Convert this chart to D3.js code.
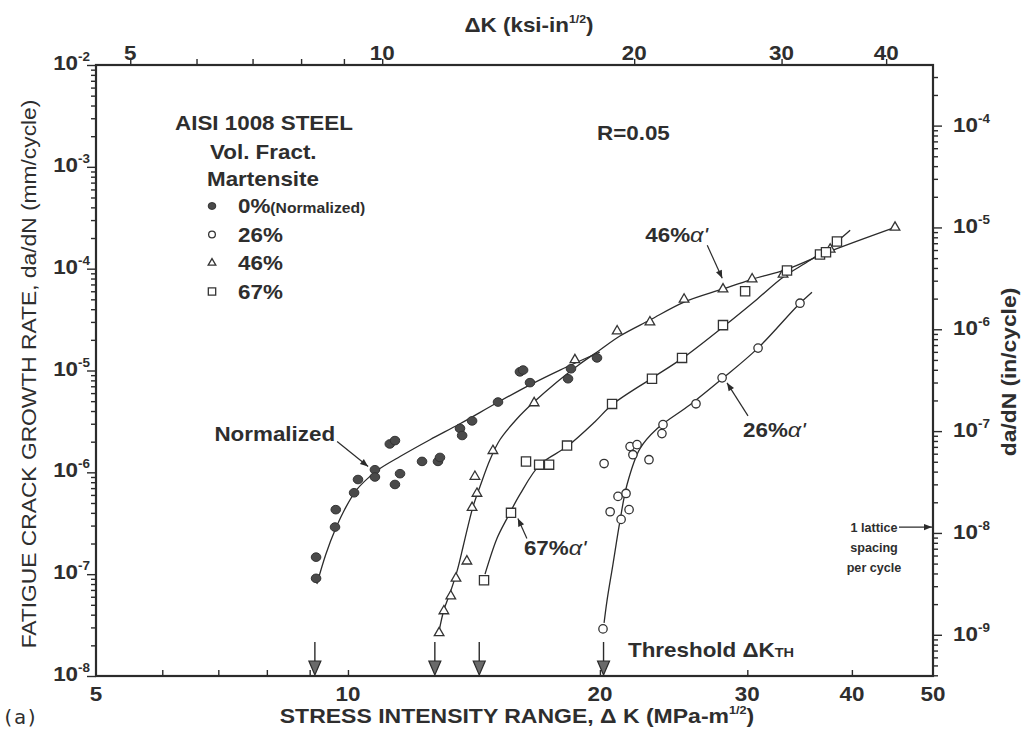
<!DOCTYPE html>
<html>
<head>
<meta charset="utf-8">
<script src="https://cdn.jsdelivr.net/npm/d3@7"></script>
<style>
  html, body { margin: 0; padding: 0; background: #fff; }
  svg { display: block; }
  text { font-family: "Liberation Sans", Arial, Helvetica, sans-serif; fill: #2e2e2e; }
</style>
</head>
<body>
<svg id="chart" width="1025" height="730"></svg>
<script>
// ---- Data: stress intensity range ΔK (MPa·m^1/2) vs da/dN (mm/cycle) ----
const normalizedPts = [
  [9.16,1.47e-7],[9.16,9.1e-8],[9.65,2.9e-7],[9.67,4.3e-7],[10.17,6.3e-7],[10.28,8.5e-7],
  [10.77,1.06e-6],[10.77,9.0e-7],[11.22,1.9e-6],[11.38,2.05e-6],[11.54,9.7e-7],[11.38,7.6e-7],
  [12.26,1.28e-6],[12.81,1.28e-6],[12.88,1.4e-6],[13.61,2.7e-6],[13.69,2.3e-6],[14.07,3.2e-6],
  [15.11,4.9e-6],[16.05,9.7e-6],[16.19,1.01e-5],[16.5,7.6e-6],[18.32,8.3e-6],[18.47,1.04e-5],
  [19.84,1.33e-5]
];
const pct26Pts = [
  [20.17,2.9e-8],[20.57,4.1e-7],[21.67,4.3e-7],[21.2,3.45e-7],[21.02,5.8e-7],[21.49,6.2e-7],
  [21.73,1.79e-6],[22.15,1.87e-6],[21.9,1.49e-6],[22.89,1.33e-6],[20.23,1.22e-6],[23.79,2.94e-6],
  [23.72,2.4e-6],[26.05,4.71e-6],[27.99,8.47e-6],[30.9,1.66e-5],[34.68,4.58e-5]
];
const pct46Pts = [
  [12.85,2.65e-8],[13.02,4.35e-8],[13.27,6.1e-8],[13.46,9.1e-8],[13.87,1.34e-7],[14.07,4.5e-7],
  [14.26,6.2e-7],[14.18,9.1e-7],[14.9,1.63e-6],[16.69,4.8e-6],[18.67,1.27e-5],[20.97,2.44e-5],
  [22.95,2.99e-5],[25.21,5.0e-5],[28.06,6.3e-5],[30.4,7.9e-5],[33.1,8.8e-5],[37.68,1.55e-4],
  [45.04,2.54e-4]
];
const pct67Pts = [
  [14.54,8.7e-8],[15.66,4.0e-7],[16.32,1.28e-6],[16.92,1.19e-6],[17.39,1.19e-6],[18.27,1.83e-6],
  [20.68,4.7e-6],[23.08,8.3e-6],[25.07,1.33e-5],[28.06,2.79e-5],[29.82,6.0e-5],[33.46,9.6e-5],
  [36.64,1.38e-4],[37.25,1.45e-4],[38.39,1.85e-4]
];

// Hand-drawn trend curves through each series
const normalizedFit = [
  [9.18,8.0e-8],[9.41,1.57e-7],[9.67,2.82e-7],[9.94,4.53e-7],[10.25,6.8e-7],[10.62,9.1e-7],
  [10.92,1.09e-6],[11.54,1.43e-6],[12.53,2.09e-6],[13.61,3.0e-6],[15.07,4.82e-6],[16.5,7.23e-6],
  [17.92,1.01e-5],[20.0,1.52e-5]
];
const fit26 = [
  [20.23,3.32e-8],[20.39,5.44e-8],[20.73,1.25e-7],[21.13,3.3e-7],[21.55,7.6e-7],[22.33,1.71e-6],
  [23.4,2.68e-6],[25.63,4.61e-6],[27.99,8.28e-6],[30.82,1.63e-5],[34.49,4.38e-5],[35.84,5.88e-5]
];
const fit46 = [
  [12.85,2.77e-8],[13.02,4.45e-8],[13.24,6.5e-8],[13.5,1.07e-7],[13.73,1.88e-7],[13.91,2.95e-7],
  [14.11,4.63e-7],[14.38,7.26e-7],[14.78,1.33e-6],[15.19,2.09e-6],[15.92,3.36e-6],[16.64,4.82e-6],
  [17.77,7.73e-6],[18.93,1.16e-5],[20.0,1.59e-5],[21.13,2.18e-5],[22.95,3.13e-5],[25.21,4.69e-5],
  [27.99,6.28e-5],[30.4,7.87e-5],[33.46,9.86e-5],[37.68,1.48e-4],[45.04,2.54e-4]
];
const fit67 = [
  [14.58,1.0e-7],[15.07,2.25e-7],[15.49,3.53e-7],[16.05,6.07e-7],[16.96,1.19e-6],[18.27,1.79e-6],
  [19.73,3.14e-6],[20.68,4.61e-6],[23.01,8.28e-6],[25.13,1.33e-5],[28.14,2.73e-5],[30.82,5.02e-5],
  [33.1,8.24e-5],[35.65,1.21e-4],[38.39,1.85e-4],[39.81,2.38e-4]
];

// Threshold ΔK_TH for each microstructure
const thresholdK = [9.13, 12.7, 14.35, 20.2];

// Tick labels
const bottomTickLabels = [5, 10, 20, 30, 40, 50];      // MPa·m^1/2
const topTickLabels = [5, 10, 20, 30, 40];             // ksi·in^1/2
const leftExponents = [-2, -3, -4, -5, -6, -7, -8];    // mm/cycle
const rightExponents = [-4, -5, -6, -7, -8, -9];       // in/cycle

// Legend rows
const legendRows = [
  { shape: "dot",      label: "0%", note: "(Normalized)" },
  { shape: "circle",   label: "26%" },
  { shape: "triangle", label: "46%" },
  { shape: "square",   label: "67%" }
];

// Annotated curves: arrow tip given in data units
const curveNotes = [
  { text: "Normalized", tip: [10.57, 1.14e-6], from: [-31, -25], at: [-33, -26], anchor: "end" },
  { text: "67%", tip: [15.96, 3.53e-7], from: [9, 20], at: [6, 37], anchor: "start", alpha: true },
  { text: "26%", tip: [28.37, 7.56e-6], from: [21, 33], at: [16, 54], anchor: "start", alpha: true },
  { text: "46%", tip: [28.0, 8.05e-5], from: [-15, -33], at: [-77, -36], anchor: "start", alpha: true }
];
const latticeSpacing = 2.9e-7; // mm per cycle, ≈ one lattice spacing

// ---- Layout ----
const MPA_PER_KSI = 1.0988, MM_PER_IN = 25.4;
const L = 96, R = 933, T = 65, B = 676;
const ink = "#2b2b2b";
const SX = 1.12; // wide lettering

const svg = d3.select("#chart");
const x = d3.scaleLog().domain([5, 50]).range([L, R]);
const y = d3.scaleLog().domain([1e-8, 1e-2]).range([B, T]);
const xk = d3.scaleLog().domain([5 / MPA_PER_KSI, 50 / MPA_PER_KSI]).range([L, R]);
const yIn = d3.scaleLog().domain([1e-8 / MM_PER_IN, 1e-2 / MM_PER_IN]).range([B, T]);

const defs = svg.append("defs");
defs.append("marker").attr("id", "ah").attr("viewBox", "0 0 10 10")
  .attr("refX", 10).attr("refY", 5).attr("markerUnits", "userSpaceOnUse")
  .attr("markerWidth", 10).attr("markerHeight", 8).attr("orient", "auto")
  .append("path").attr("d", "M0,1 L10,5 L0,9 Z").attr("fill", ink);

// text helper: parts are strings or {t, size, dy}
function label(parent, px, py, parts, o = {}) {
  const rot = o.rotate ? ` rotate(${o.rotate})` : "";
  const g = parent.append("g").attr("transform", `translate(${px},${py})${rot} scale(${o.sx || SX},1)`);
  const t = g.append("text")
    .attr("text-anchor", o.anchor || "start")
    .attr("font-size", o.size || 20)
    .attr("font-weight", o.weight || "bold");
  if (o.family) t.style("font-family", o.family);
  parts.forEach(p => {
    if (typeof p === "string") t.append("tspan").text(p);
    else {
      const s = t.append("tspan").text(p.t);
      if (p.size) s.attr("font-size", p.size);
      if (p.dy) s.attr("dy", p.dy);
      if (p.weight) s.attr("font-weight", p.weight);
    }
  });
  return t;
}

// ---- Axes ----
function styleAxis(g) {
  g.select(".domain").remove();
  g.selectAll("line").attr("stroke", ink).attr("stroke-width", 1.4);
}
const isDecade = v => Math.abs(Math.log10(v) - Math.round(Math.log10(v))) < 1e-6;

const leftTicks = y.ticks();
svg.append("g").attr("transform", `translate(${L},0)`)
  .call(d3.axisLeft(y).tickValues(leftTicks.filter(v => !isDecade(v))).tickSize(5).tickFormat(""))
  .call(styleAxis);
svg.append("g").attr("transform", `translate(${L},0)`)
  .call(d3.axisLeft(y).tickValues(leftTicks.filter(isDecade)).tickSize(9).tickFormat(""))
  .call(styleAxis);

const rightTicks = yIn.ticks();
svg.append("g").attr("transform", `translate(${R},0)`)
  .call(d3.axisRight(yIn).tickValues(rightTicks.filter(v => !isDecade(v))).tickSize(5).tickFormat(""))
  .call(styleAxis);
svg.append("g").attr("transform", `translate(${R},0)`)
  .call(d3.axisRight(yIn).tickValues(rightTicks.filter(isDecade)).tickSize(9).tickFormat(""))
  .call(styleAxis);

svg.append("g").attr("transform", `translate(0,${B})`)
  .call(d3.axisBottom(x).tickValues(x.ticks().filter(v => v > 5 && v < 50)).tickSize(-6).tickFormat(""))
  .call(styleAxis);
svg.append("g").attr("transform", `translate(0,${T})`)
  .call(d3.axisTop(xk).tickValues(xk.ticks()).tickSize(6).tickFormat(""))
  .call(styleAxis);

svg.append("rect").attr("x", L).attr("y", T).attr("width", R - L).attr("height", B - T)
  .attr("fill", "none").attr("stroke", ink).attr("stroke-width", 2.2);

// tick labels
bottomTickLabels.forEach(v => label(svg, x(v), B + 25, [String(v)], { anchor: "middle" }));
topTickLabels.forEach(v => label(svg, xk(v), T - 5, [String(v)], { anchor: "middle" }));
leftExponents.forEach(e => label(svg, L - 6, y(Math.pow(10, e)) + 5,
  ["10", { t: String(e), size: 12, dy: -9 }], { anchor: "end" }));
rightExponents.forEach(e => label(svg, R + 20, yIn(Math.pow(10, e)) + 6,
  ["10", { t: String(e), size: 12, dy: -9 }], { anchor: "start" }));

// axis titles
label(svg, 529, T - 33, ["ΔK (ksi-in", { t: "1/2", size: 11, dy: -9 }, { t: ")", dy: 9 }], { anchor: "middle" });
label(svg, 517, 723, ["STRESS INTENSITY RANGE, Δ K (MPa-m", { t: "1/2", size: 11, dy: -9 }, { t: ")", dy: 9 }],
  { anchor: "middle", sx: 1.15 });
label(svg, 36, 374, ["FATIGUE CRACK GROWTH RATE, da/dN (mm/cycle)"], { anchor: "middle", rotate: -90, weight: "normal", sx: 1.14 });
label(svg, 1016, 372, ["da/dN (in/cycle)"], { anchor: "middle", rotate: -90, sx: 1.14 });
label(svg, 2, 724, ["(a)"], { weight: "normal", sx: 1, size: 20, family: "'DejaVu Sans Mono', monospace" });

// ---- Curves ----
const line = d3.line().x(d => x(d[0])).y(d => y(d[1])).curve(d3.curveCatmullRom.alpha(0.5));
const plotG = svg.append("g");
[normalizedFit, fit26, fit46, fit67].forEach(f =>
  plotG.append("path").attr("d", line(f)).attr("fill", "none").attr("stroke", ink).attr("stroke-width", 1.3));

// ---- Markers ----
function drawShape(g, shape, cx, cy, s = 1) {
  if (shape === "dot")
    g.append("ellipse").attr("cx", cx).attr("cy", cy).attr("rx", 4.8 * s).attr("ry", 4.3 * s)
      .attr("fill", "#4a4a4a").attr("stroke", "#333").attr("stroke-width", 1);
  else if (shape === "circle")
    g.append("circle").attr("cx", cx).attr("cy", cy).attr("r", 4.2 * s)
      .attr("fill", "#fff").attr("stroke", "#333").attr("stroke-width", 1.3);
  else if (shape === "triangle")
    g.append("path").attr("transform", `translate(${cx},${cy})`)
      .attr("d", d3.symbol(d3.symbolTriangle, 40 * s * s)())
      .attr("fill", "#fff").attr("stroke", "#333").attr("stroke-width", 1.3);
  else
    g.append("path").attr("transform", `translate(${cx},${cy})`)
      .attr("d", d3.symbol(d3.symbolSquare, 85 * s * s)())
      .attr("fill", "#fff").attr("stroke", "#333").attr("stroke-width", 1.3);
}
const seriesList = [
  [normalizedPts, "dot"], [pct26Pts, "circle"], [pct46Pts, "triangle"], [pct67Pts, "square"]
];
seriesList.forEach(([pts, shape]) => pts.forEach(d => drawShape(plotG, shape, x(d[0]), y(d[1]))));

// ---- Threshold arrows ----
thresholdK.forEach(k => {
  const cx = x(k);
  svg.append("line").attr("x1", cx).attr("x2", cx).attr("y1", B - 34).attr("y2", B - 15)
    .attr("stroke", ink).attr("stroke-width", 1.4);
  svg.append("path").attr("d", `M${cx - 6},${B - 15} L${cx + 6},${B - 15} L${cx},${B - 1} Z`)
    .attr("fill", "#6a6a6a").attr("stroke", ink).attr("stroke-width", 1.2);
});
label(svg, 628, B - 19, ["Threshold ΔK", { t: "TH", size: 13 }]);

// ---- Legend ----
const lg = svg.append("g");
label(lg, 175, 130, ["AISI 1008 STEEL"]);
label(lg, 210, 159, ["Vol. Fract."]);
label(lg, 207, 186, ["Martensite"]);
legendRows.forEach((r, i) => {
  const cy = 206 + i * 28.5;
  drawShape(lg, r.shape, 212, cy, 0.8);
  const parts = [r.label];
  if (r.note) parts.push({ t: r.note, size: 14 });
  label(lg, 238, cy + 7, parts);
});
label(svg, 597, 140, ["R=0.05"]);

// ---- Curve annotations ----
curveNotes.forEach(n => {
  const tx = x(n.tip[0]), ty = y(n.tip[1]);
  svg.append("line").attr("x1", tx + n.from[0]).attr("y1", ty + n.from[1])
    .attr("x2", tx).attr("y2", ty).attr("stroke", ink).attr("stroke-width", 1.2)
    .attr("marker-end", "url(#ah)");
  const parts = [n.text];
  if (n.alpha) parts.push({ t: "α'", weight: "normal", size: 21 });
  const t = label(svg, tx + n.at[0], ty + n.at[1], parts, { anchor: n.anchor });
  if (n.alpha) t.select("tspan:last-child").style("font-style", "italic");
});

// ---- Lattice spacing marker on the right axis ----
const ly = y(latticeSpacing);
svg.append("line").attr("x1", 899).attr("x2", R - 1).attr("y1", ly).attr("y2", ly)
  .attr("stroke", ink).attr("stroke-width", 1.3).attr("marker-end", "url(#ah)");
["1 lattice", "spacing", "per cycle"].forEach((s, i) =>
  label(svg, 874, ly + 5 + i * 20, [s], { anchor: "middle", size: 13, sx: 0.97 }));
</script>
</body>
</html>
